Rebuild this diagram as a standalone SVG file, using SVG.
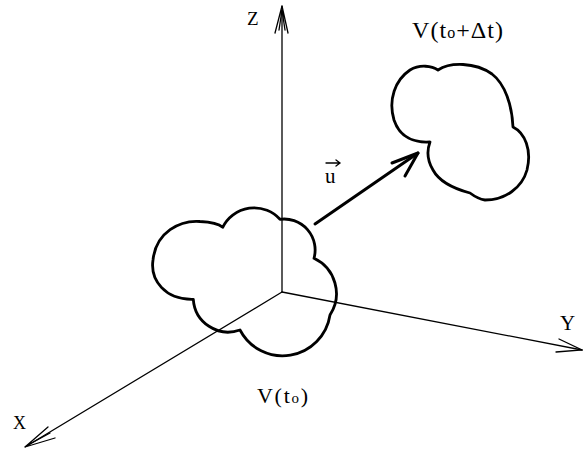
<svg xmlns="http://www.w3.org/2000/svg" width="583" height="450" viewBox="0 0 583 450">
<style>
.axis{fill:none;stroke:#000;stroke-width:1.3;stroke-linecap:round}
.cloud{fill:none;stroke:#000;stroke-width:2.8;stroke-linejoin:round}
.vec{fill:none;stroke:#000;stroke-width:3;stroke-linecap:round;stroke-linejoin:round}
.lbl{font-family:"Liberation Serif","Times New Roman",serif;fill:#000}
</style>
<rect width="583" height="450" fill="#fff"/>
<g id="connectors">
<g id="axis-z"><path class="axis" d="M282,292 L282,6"/><path class="axis" d="M275,33 L282,6 L288,33 M279,30 L282,10 L285,30"/></g>
<g id="axis-x"><path class="axis" d="M282,292 L25,447"/><path class="axis" d="M48,427 L25,447 L55,438 M50,433 L28,445"/></g>
<g id="axis-y"><path class="axis" d="M282,292 L582,350"/><path class="axis" d="M559,339 L582,350 L556,352"/></g>
<g id="vector-u"><path class="vec" d="M315,224 L418,153"/><path class="vec" d="M392,163 L418,153 L405,176"/></g>
</g>
<g id="cloud-t0">
<path class="cloud" d="M222.7,227.3 A35,35 0 0 1 280,219.3 A31,31 0 0 1 314,258.3 A39,39 0 0 1 330,315 A48,48 0 0 1 240,330 A35,35 0 0 1 193.3,299.3 C165,300 150,280 153,260 C156,232 180,220 200,221.5 C212,222 219,224 222.7,227.3 Z"/>
</g>
<g id="cloud-t1">
<path class="cloud" d="M430,142 C415,143 400,138 394,120 C388,100 395,80 410,70 C420,64 432,66 438,70 C450,62 475,62 492,74 C505,84 512,105 513,127 C525,133 532,150 527,170 C522,188 505,200 485,200 C478,199 474,196 470,193 C455,189 440,183 433,170 C427,160 427,150 430,142 Z"/>
</g>
<g id="labels">
<text class="lbl" x="247" y="25" font-size="19">Z</text>
<text class="lbl" x="13" y="429" font-size="18">X</text>
<text class="lbl" x="560" y="330" font-size="21">Y</text>
<text class="lbl" x="412" y="38" font-size="24" textLength="91" lengthAdjust="spacing">V(t<tspan font-size="16">o</tspan>+Δt)</text>
<text class="lbl" x="257" y="403" font-size="22" textLength="51" lengthAdjust="spacing">V(t<tspan font-size="15">o</tspan>)</text>
<text class="lbl" x="325" y="183" font-size="21">u</text>
<path class="axis" d="M326,163 L340,163 M336,160 L340,163 L336,166"/>
</g>
</svg>
